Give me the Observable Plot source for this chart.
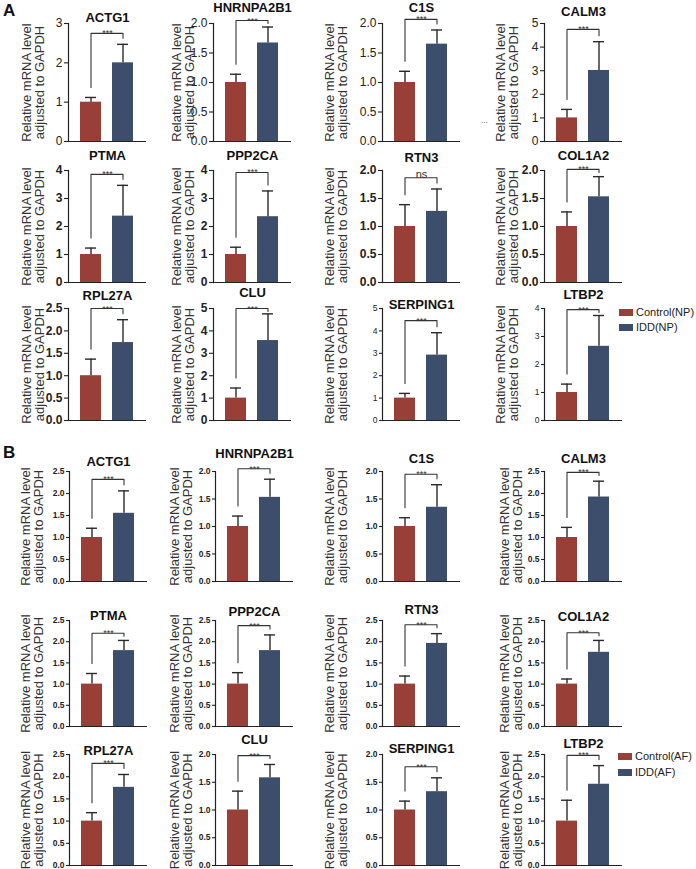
<!DOCTYPE html>
<html><head><meta charset="utf-8">
<script src="https://cdn.jsdelivr.net/npm/d3@7"></script>
<script src="https://cdn.jsdelivr.net/npm/@observablehq/plot@0.6"></script>
<style>
body{margin:0;background:#fff;}
#fig{position:relative;width:696px;height:869px;overflow:hidden;font-family:"Liberation Sans",Arial,sans-serif;background:#fff;}
.panel{position:absolute;}
.panel svg{overflow:visible;display:block;}
.letter{position:absolute;font-weight:bold;font-size:17px;color:#111;line-height:1;}
.lg{position:absolute;display:flex;align-items:center;height:16px;font-size:11px;color:#222;white-space:nowrap;}
.lg .sw{width:14px;height:7px;margin-right:3px;}
.dots{position:absolute;font-size:8px;color:#333;}
</style></head><body><div id="fig"></div>
<script>
// ---------- data ----------
const genes = ["ACTG1","HNRNPA2B1","C1S","CALM3","PTMA","PPP2CA","RTN3","COL1A2","RPL27A","CLU","SERPING1","LTBP2"];
const groups = ["Control","IDD"];
const legendNP = ["Control(NP)","IDD(NP)"];
const legendAF = ["Control(AF)","IDD(AF)"];
const yLabel = "Relative mRNA level\nadjusted to GAPDH";

// Panel A (NP)
const npControl   = [1,1,1,1,1,1,1,1,1,1,1,1];
const npControlSD = [0.12,0.14,0.19,0.36,0.23,0.26,0.39,0.26,0.37,0.45,0.21,0.30];
const npIDD       = [2.00,1.67,1.65,3.01,2.37,2.35,1.27,1.53,1.74,3.57,2.92,2.65];
const npIDDSD     = [0.47,0.27,0.24,1.22,1.10,0.92,0.40,0.36,0.51,1.19,1.00,1.10];
const npYMax      = [3,2,2,5,4,4,2,2,2.5,5,5,4];
const npTickStep  = [1,0.5,0.5,1,1,1,0.5,0.5,0.5,1,1,1];
const npSig       = ["***","***","***","***","***","***","ns","***","***","***","***","***"];
const npBracket   = [2.75,2.05,2.07,4.75,3.86,3.93,1.87,2.02,2.5,5.0,4.46,3.96];

// Panel B (AF)
const afControl   = [1,1,1,1,1,1,1,1,1,1,1,1];
const afControlSD = [0.21,0.19,0.16,0.23,0.25,0.27,0.19,0.12,0.19,0.34,0.16,0.47];
const afIDD       = [1.55,1.53,1.35,1.92,1.79,1.79,1.96,1.75,1.76,1.58,1.33,1.83];
const afIDDSD     = [0.51,0.33,0.41,0.36,0.24,0.37,0.23,0.28,0.29,0.24,0.25,0.42];
const afYMax      = [2.5,2,2,2.5,2.5,2.5,2.5,2.5,2.5,2,2,2.5];
const afTickStep  = [0.5,0.5,0.5,0.5,0.5,0.5,0.5,0.5,0.5,0.5,0.5,0.5];
const afSig       = ["***","***","***","***","***","***","***","***","***","***","***","***"];
const afBracket   = [2.32,2.05,1.95,2.48,2.2,2.38,2.4,2.21,2.3,1.98,1.78,2.48];

// ---------- layout / style ----------
const colors = ["#983f37","#3d4e6c"];
const rowTop    = [23,170,308,471,620,754];
const rowBottom = [141,282,420,581,726,865];
const colAxisA = [68,213,382,544];
const colAxisB = [69,215,382,544];
const labelDxA = [35,30,46,37];
const labelDxB = [37,34,46,33];
const npTitleDy = [-6,-16,-16,-12,-15,-15,-13,-15,-13,-16,-4,-14];
const afTitleDy = [-10,-18,-13,-13,-5,-9,-11,-4,-4,-15,-6,-11];
const tickStyles = {
  r12:{fontSize:12,fontWeight:"normal",tickSize:4},
  b12:{fontSize:12,fontWeight:"bold",tickSize:4},
  s8:{fontSize:8.5,fontWeight:"normal",tickSize:3},
  sb8:{fontSize:8.5,fontWeight:"bold",tickSize:3}
};
const npTickStyle = ["r12","r12","r12","r12","b12","b12","b12","b12","b12","b12","s8","s8"];
const afTickStyle = Array(12).fill("sb8");

const fig = document.getElementById("fig");

function panel(o){
  const mL=70, mR=14, mT=32, mB=6, frameW=78;
  const innerH = o.bottom - o.top;
  const W = mL+frameW+mR, H = innerH+mT+mB;
  const pxY = o.ymax/innerH;
  const rows = [
    {g:groups[0], v:o.ctrl, e:o.ctrl+o.ctrlSD},
    {g:groups[1], v:o.idd,  e:o.idd+o.iddSD}
  ];
  const legL = Math.min(rows[0].e + 10*pxY, o.bracket - 3*pxY);
  const legR = Math.min(rows[1].e + 6*pxY, o.bracket - 3*pxY);
  const br = [
    {g:groups[0], y:legL},{g:groups[0], y:o.bracket},
    {g:groups[1], y:o.bracket},{g:groups[1], y:legR}
  ];
  const ticks = d3.range(0, o.ymax + o.step/2, o.step);
  const fmt = o.step >= 1 ? d3.format("d") : d3.format(".1f");
  const ts = tickStyles[o.tickStyle];
  const isNs = o.sig === "ns";
  const svg = Plot.plot({
    width: W, height: H,
    marginLeft: mL, marginRight: mR, marginTop: mT, marginBottom: mB,
    style: {fontFamily:"Liberation Sans, Arial, sans-serif", background:"transparent", color:"#222", overflow:"visible"},
    x: {type:"band", domain: groups, paddingInner: 1/3, paddingOuter: 0.35, axis: null},
    y: {domain:[0,o.ymax], axis: null},
    marks: [
      Plot.barY(rows, {x:"g", y:"v", fill:(d,i)=>colors[i]}),
      Plot.ruleX(rows, {x:"g", y1:"v", y2:"e", stroke:"#2a2a2a", strokeWidth:1.4}),
      Plot.tickY(rows, {x:"g", y:"e", stroke:"#2a2a2a", strokeWidth:1.4, insetLeft:5, insetRight:5}),
      Plot.line(br, {x:"g", y:"y", stroke:"#333", strokeWidth:1.1}),
      Plot.text([o.sig], {text:d=>d, y:()=>o.bracket, textAnchor:"middle",
        dy: isNs ? 0 : 3, lineAnchor:"bottom", fontSize: isNs ? 11 : 9, fill:"#333"}),
      Plot.frame({anchor:"left", stroke:"#222", strokeWidth:1.2}),
      Plot.ruleY([0], {stroke:"#222", strokeWidth:1.2}),
      Plot.axisY({ticks, tickFormat:fmt, tickSize:ts.tickSize, tickPadding:2,
        fontSize:ts.fontSize, fontWeight:ts.fontWeight, label:null, stroke:"#222", strokeWidth:1.1}),
      Plot.text([o.gene], {text:d=>d, frameAnchor:"top", dy:o.titleDy, lineAnchor:"middle", textAnchor:"middle",
        fontSize:13, fontWeight:"bold", fill:"#111"}),
      Plot.text([yLabel], {text:d=>d, frameAnchor:"left", dx:-o.labelDx, rotate:-90,
        textAnchor:"middle", lineAnchor:"middle", lineHeight:1.0, fontSize:13, fill:"#333"})
    ]
  });
  const div = document.createElement("div");
  div.className = "panel";
  div.style.left = (o.axisX - mL) + "px";
  div.style.top = (o.top - mT) + "px";
  div.appendChild(svg);
  fig.appendChild(div);
}

function section(s){
  for (let i=0;i<genes.length;i++){
    const r = Math.floor(i/4), c = i%4;
    panel({
      gene: genes[i], ctrl: s.ctrl[i], ctrlSD: s.ctrlSD[i], idd: s.idd[i], iddSD: s.iddSD[i],
      ymax: s.ymax[i], step: s.step[i], sig: s.sig[i], bracket: s.bracket[i],
      top: rowTop[s.rowOffset + r], bottom: rowBottom[s.rowOffset + r],
      axisX: s.colAxis[c], labelDx: s.labelDx[c], titleDy: s.titleDy[i], tickStyle: s.tickStyle[i]
    });
  }
}

section({ctrl:npControl, ctrlSD:npControlSD, idd:npIDD, iddSD:npIDDSD, ymax:npYMax, step:npTickStep,
  sig:npSig, bracket:npBracket, rowOffset:0, colAxis:colAxisA, labelDx:labelDxA, titleDy:npTitleDy, tickStyle:npTickStyle});
section({ctrl:afControl, ctrlSD:afControlSD, idd:afIDD, iddSD:afIDDSD, ymax:afYMax, step:afTickStep,
  sig:afSig, bracket:afBracket, rowOffset:3, colAxis:colAxisB, labelDx:labelDxB, titleDy:afTitleDy, tickStyle:afTickStyle});

// section letters
function addDiv(cls, text, left, top){
  const d = document.createElement("div"); d.className = cls; d.textContent = text;
  d.style.left = left+"px"; d.style.top = top+"px"; fig.appendChild(d); return d;
}
addDiv("letter","A",3,2);
addDiv("letter","B",3,444);
addDiv("dots","...",481,116);

// legends
function legend(labels, left, centers){
  labels.forEach((lab,i)=>{
    const d = document.createElement("div"); d.className="lg";
    d.style.left = left+"px"; d.style.top = (centers[i]-8)+"px";
    const sw = document.createElement("div"); sw.className="sw"; sw.style.background = colors[i];
    const t = document.createElement("span"); t.textContent = lab;
    d.appendChild(sw); d.appendChild(t); fig.appendChild(d);
  });
}
legend(legendNP, 619, [312,327]);
legend(legendAF, 618, [756,772]);
</script>
</body></html>
